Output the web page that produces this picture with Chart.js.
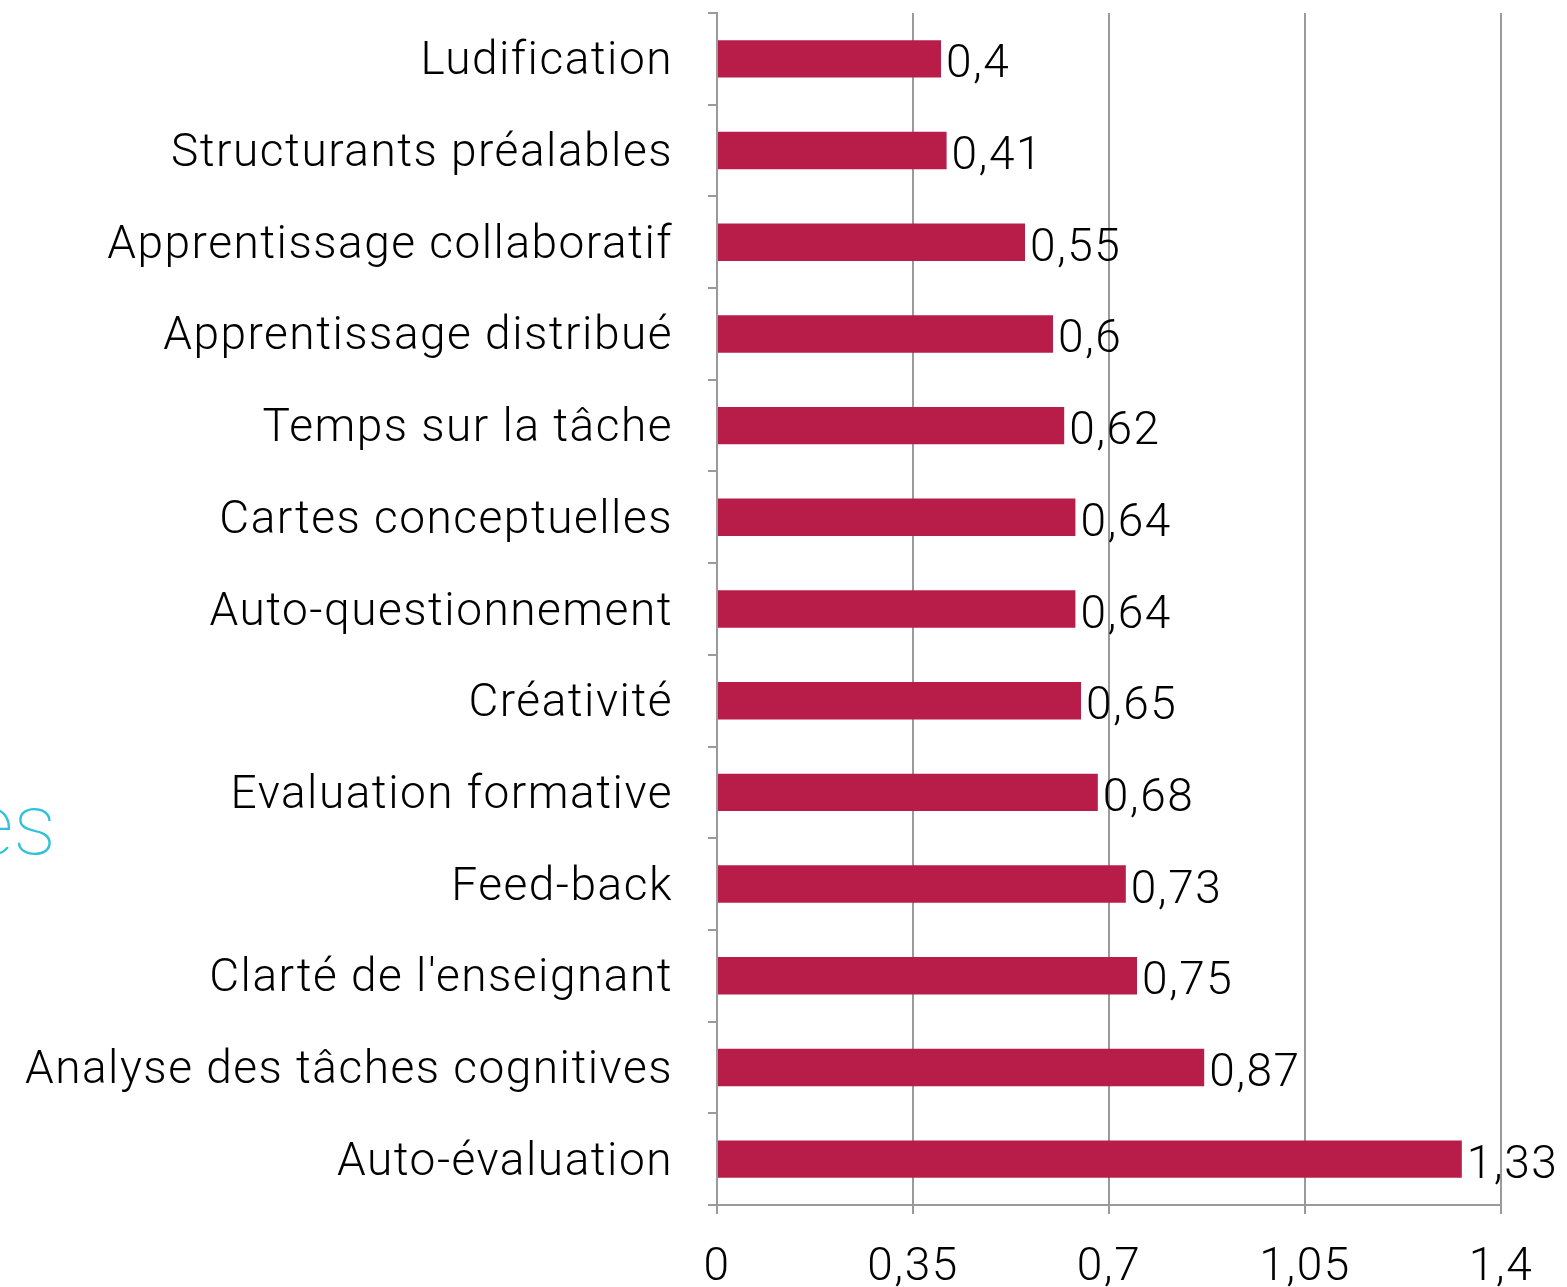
<!DOCTYPE html>
<html>
<head>
<meta charset="utf-8">
<script src="https://cdn.jsdelivr.net/npm/chart.js@4"></script>
<style>
  html, body { margin: 0; padding: 0; background: #fff; overflow: hidden; }
  #wrap { position: relative; width: 1567px; height: 1287px; }
  #title { position: absolute; left: -30px; top: 782px; font-family: Roboto, sans-serif; font-weight: 100;
           font-size: 86px; color: #2fc0da; line-height: 1; }
</style>
</head>
<body>
<div id="wrap">
  <div id="title">es</div>
  <canvas id="chart" width="1567" height="1287"></canvas>
</div>
<script>
// values
const categories = [
  "Ludification",
  "Structurants préalables",
  "Apprentissage collaboratif",
  "Apprentissage distribué",
  "Temps sur la tâche",
  "Cartes conceptuelles",
  "Auto-questionnement",
  "Créativité",
  "Evaluation formative",
  "Feed-back",
  "Clarté de l'enseignant",
  "Analyse des tâches cognitives",
  "Auto-évaluation",
];
const effectSizes = [0.4, 0.41, 0.55, 0.6, 0.62, 0.64, 0.64, 0.65, 0.68, 0.73, 0.75, 0.87, 1.33];
const xTicks = [0, 0.35, 0.7, 1.05, 1.4];

const fmt = (v) => String(parseFloat(v.toFixed(2))).replace(".", ",");
const FONT = "Roboto";
const SIZE = 46;
const GRID = "#9a9a9a";

// wider tracking, like the original light Helvetica
const spacing = {
  id: "spacing",
  beforeLayout(chart) { chart.ctx.letterSpacing = "1.5px"; },
  beforeDraw(chart) { chart.ctx.letterSpacing = "1.5px"; },
};

// value labels just past the end of each bar
const valueLabels = {
  id: "valueLabels",
  afterDatasetsDraw(chart) {
    const ctx = chart.ctx;
    const meta = chart.getDatasetMeta(0);
    ctx.save();
    ctx.font = "300 " + SIZE + "px " + FONT;
    ctx.fillStyle = "#000";
    ctx.textAlign = "left";
    ctx.textBaseline = "middle";
    meta.data.forEach((bar, i) => {
      ctx.fillText(fmt(effectSizes[i]), bar.x + 5, bar.y + 7);
    });
    ctx.restore();
  },
};

new Chart(document.getElementById("chart"), {
  type: "bar",
  data: {
    labels: categories,
    datasets: [{
      data: effectSizes,
      backgroundColor: "#b81c48",
      barPercentage: 0.8,
      categoryPercentage: 0.51,
    }],
  },
  options: {
    indexAxis: "y",
    responsive: false,
    animation: false,
    layout: { padding: { top: 13, right: 66, left: 0, bottom: 0 } },
    plugins: { legend: { display: false }, tooltip: { enabled: false } },
    scales: {
      x: {
        min: 0,
        max: 1.4,
        afterBuildTicks(axis) { axis.ticks = xTicks.map((v) => ({ value: v })); },
        afterFit(axis) { axis.height = 82; axis.paddingLeft = 0; axis.paddingRight = 0; },
        border: { color: GRID, width: 2 },
        grid: { color: GRID, lineWidth: 2, tickLength: 9 },
        ticks: {
          color: "#000",
          padding: 27,
          font: { family: FONT, size: SIZE, weight: 300 },
          callback: (v) => fmt(v),
        },
      },
      y: {
        afterFit(axis) { axis.width = 717; axis.paddingTop = 0; axis.paddingBottom = 0; },
        border: { color: GRID, width: 2 },
        grid: { color: GRID, lineWidth: 2, drawOnChartArea: false, tickLength: 9, offset: true },
        ticks: {
          color: "#000",
          padding: 35,
          labelOffset: 4,
          font: { family: FONT, size: SIZE, weight: 300 },
        },
      },
    },
  },
  plugins: [spacing, valueLabels],
});
</script>
</body>
</html>
